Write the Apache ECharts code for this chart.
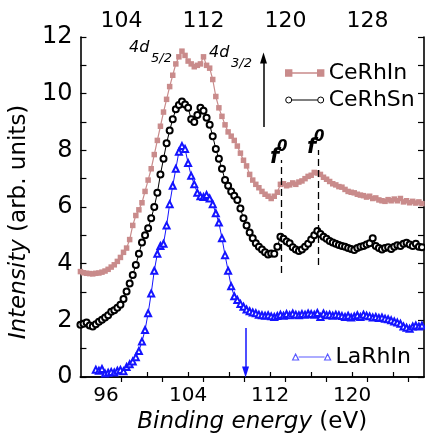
<!DOCTYPE html>
<html>
<head>
<meta charset="utf-8">
<script src="https://cdn.jsdelivr.net/npm/echarts@6/dist/echarts.min.js"></script>
<style>
html,body{margin:0;padding:0;background:#fff;}
#chart{width:425px;height:439px;}
</style>
</head>
<body>
<div id="chart"></div>
<script>
// Binding energy grid (eV)
const energy = [93.5,93.8,94.1,94.4,94.7,95.0,95.3,95.6,95.9,96.2,96.5,96.8,97.1,97.4,97.7,98.0,98.3,98.6,98.9,99.2,
99.5,99.8,100.1,100.4,100.7,101.0,101.3,101.6,101.9,102.2,102.5,102.8,103.1,103.4,103.7,104.0,104.3,104.6,104.9,105.2,
105.5,105.8,106.1,106.4,106.7,107.0,107.3,107.6,107.9,108.2,108.5,108.8,109.1,109.4,109.7,110.0,110.3,110.6,110.9,111.2,
111.5,111.8,112.1,112.4,112.7,113.0,113.3,113.6,113.9,114.2,114.5,114.8,115.1,115.4,115.7,116.0,116.3,116.6,116.9,117.2,
117.5,117.8,118.1,118.4,118.7,119.0,119.3,119.6,119.9,120.2,120.5,120.8,121.1,121.4,121.7,122.0,122.3,122.6,122.9,123.2,
123.5,123.8,124.1,124.4,124.7,125.0,125.3,125.6,125.9,126.2,126.5,126.8];

const ceRhIn = [3.72,3.68,3.66,3.65,3.64,3.66,3.67,3.70,3.74,3.80,3.88,3.96,4.08,4.22,4.40,4.55,4.85,5.35,5.70,5.90,
6.15,6.55,6.95,7.35,7.85,8.35,8.85,9.35,9.80,10.25,10.65,11.05,11.30,11.50,11.35,11.15,11.05,10.95,11.00,11.05,
11.30,11.00,10.90,10.50,9.90,9.50,9.20,8.90,8.65,8.50,8.35,8.15,7.90,7.65,7.45,7.15,6.95,6.80,6.68,6.55,
6.45,6.38,6.30,6.38,6.52,6.80,6.82,6.75,6.78,6.85,6.80,6.88,6.92,7.00,7.08,7.12,7.22,7.20,7.15,7.05,
6.98,6.90,6.82,6.78,6.72,6.70,6.62,6.55,6.52,6.50,6.45,6.42,6.40,6.35,6.38,6.30,6.32,6.25,6.22,6.20,
6.26,6.22,6.28,6.22,6.30,6.18,6.22,6.15,6.20,6.14,6.18,6.12];

const ceRhSn = [1.84,1.88,1.92,1.82,1.78,1.86,1.95,2.02,2.10,2.18,2.30,2.36,2.44,2.55,2.75,3.02,3.30,3.60,3.95,4.35,
4.75,5.00,5.25,5.60,6.00,6.50,7.15,7.70,8.25,8.70,9.10,9.45,9.60,9.72,9.62,9.50,9.10,9.00,9.25,9.50,
9.40,9.15,8.90,8.50,8.05,7.70,7.35,6.95,6.75,6.55,6.40,6.25,5.95,5.60,5.35,5.10,4.90,4.72,4.60,4.50,
4.40,4.32,4.36,4.35,4.60,4.95,4.88,4.78,4.72,4.58,4.50,4.45,4.50,4.60,4.70,4.85,5.00,5.15,5.05,4.95,
4.88,4.80,4.75,4.70,4.66,4.62,4.60,4.55,4.52,4.48,4.55,4.60,4.62,4.68,4.72,4.90,4.62,4.55,4.50,4.55,
4.58,4.52,4.60,4.65,4.62,4.70,4.74,4.68,4.62,4.70,4.60,4.58];

const laRhIn = [null,null,null,null,null,0.26,0.22,0.28,0.12,0.15,0.18,0.16,0.22,0.25,0.20,0.35,0.45,0.55,0.70,0.92,
1.25,1.66,2.25,2.95,3.75,4.35,4.62,4.70,5.35,6.10,6.75,7.35,7.95,8.15,8.05,7.55,7.10,6.80,6.50,6.38,
6.35,6.42,6.30,6.10,5.78,5.45,4.90,4.30,3.75,3.20,2.85,2.72,2.58,2.48,2.38,2.32,2.28,2.25,2.20,2.18,
2.16,2.18,2.14,2.12,2.15,2.20,2.16,2.22,2.18,2.24,2.20,2.18,2.22,2.20,2.24,2.22,2.20,2.26,2.12,2.24,
2.18,2.20,2.16,2.20,2.18,2.15,2.12,2.16,2.10,2.14,2.18,2.12,2.20,2.16,2.14,2.10,2.12,2.08,2.10,2.06,
2.04,2.00,1.96,1.92,1.88,1.78,1.74,1.70,1.78,1.82,1.78,1.82];

const bottomTicks = [96,100,104,108,112,116,120,124];
const bottomLabels = [96,104,112,120];
const topTicks = [104,108,112,116,120,124,128,132];
const topLabels = [104,112,120,128];
const fLines = [113.1, 116.7];

const FONT = 'DejaVu Sans';
const pink = '#c98b8b';
const blue = '#1414ff';

function pairs(vals){
  const out = [];
  energy.forEach((e,i)=>{ if(vals[i]!==null) out.push([e, vals[i]]); });
  return out;
}

const chart = echarts.init(document.getElementById('chart'), null, {renderer:'canvas'});
const axisLine = {show:true, lineStyle:{color:'#000', width:1.6}};
const option = {
  animation:false,
  backgroundColor:'#fff',
  grid:{left:80, right:1, top:37, bottom:62, show:false},
  xAxis:[{
    type:'value', position:'bottom', min:93.5, max:127,
    axisLine: axisLine,
    axisTick:{show:true, inside:true, length:5, customValues:bottomTicks, lineStyle:{color:'#000', width:1.2}},
    axisLabel:{show:true, customValues:bottomLabels, margin:9, fontFamily:FONT, fontSize:20, color:'#000'},
    splitLine:{show:false},
    name:'{i|Binding energy} (eV)', nameLocation:'middle', nameGap:32,
    nameTextStyle:{fontFamily:FONT, fontSize:23, color:'#000',
      rich:{i:{fontFamily:FONT, fontStyle:'italic', fontSize:23, color:'#000'}}}
  },{
    type:'value', position:'top', min:100, max:133.5,
    axisLine: axisLine,
    axisTick:{show:true, inside:true, length:5, customValues:topTicks, lineStyle:{color:'#000', width:1.2}},
    axisLabel:{show:true, customValues:topLabels, margin:5, fontFamily:FONT, fontSize:22, color:'#000'},
    splitLine:{show:false}
  }],
  yAxis:[{
    type:'value', position:'left', min:0, max:12, interval:1,
    axisLine: axisLine,
    axisTick:{show:true, inside:true, length:6, lineStyle:{color:'#000', width:1.2}},
    axisLabel:{margin:8, fontFamily:FONT, fontSize:24, color:'#000',
      formatter:function(v){ return v % 2 === 0 ? String(v) : ''; }},
    splitLine:{show:false},
    name:'{i|Intensity} (arb. units)', nameLocation:'middle', nameGap:36,
    nameTextStyle:{fontFamily:FONT, fontSize:23, color:'#000', padding:[0,30,0,0],
      rich:{i:{fontFamily:FONT, fontStyle:'italic', fontSize:23, color:'#000'}}}
  },{
    type:'value', position:'right', min:0, max:12, interval:1,
    axisLine: axisLine,
    axisTick:{show:true, inside:true, length:6, lineStyle:{color:'#000', width:1.2}},
    axisLabel:{show:false},
    splitLine:{show:false}
  }],
  legend:[{
    orient:'vertical', left:280, top:57, itemWidth:38, itemHeight:7, itemGap:5,
    textStyle:{fontFamily:FONT, fontSize:22, color:'#000'},
    data:[
      {name:'CeRhIn', icon:'path://M0,0.5h6v6h-6z M6,3.5H32 M32,0.5h6v6h-6z',
       itemStyle:{color:pink, borderColor:pink, borderWidth:1.4}},
      {name:'CeRhSn', icon:'path://M0,3.5a3,3 0 1,0 6,0a3,3 0 1,0 -6,0z M6,3.5H32 M32,3.5a3,3 0 1,0 6,0a3,3 0 1,0 -6,0z',
       itemStyle:{color:'#fff', borderColor:'#000', borderWidth:1}}
    ]
  },{
    orient:'vertical', left:287, top:341, itemWidth:38, itemHeight:7,
    textStyle:{fontFamily:FONT, fontSize:22, color:'#000'},
    data:[
      {name:'LaRhIn', icon:'path://M0,6.5L3,0.5L6,6.5z M6,3.5H32 M32,6.5L35,0.5L38,6.5z',
       itemStyle:{color:'#fff', borderColor:'#5a5aff', borderWidth:1.2}}
    ]
  }],
  series:[{
    name:'CeRhIn', type:'line', xAxisIndex:0, yAxisIndex:0,
    data:pairs(ceRhIn), symbol:'rect', symbolSize:5.5,
    itemStyle:{color:pink}, lineStyle:{color:pink, width:1.2},
    z:2
  },{
    name:'CeRhSn', type:'line', xAxisIndex:0, yAxisIndex:0,
    data:pairs(ceRhSn), symbol:'emptyCircle', symbolSize:6,
    itemStyle:{color:'#000', borderColor:'#000', borderWidth:1}, lineStyle:{color:'#000', width:1},
    z:3,
    markLine:{
      silent:true, animation:false, label:{show:false},
      data:[
        [{coord:[fLines[0],3.67], symbol:'none', lineStyle:{color:'#000', width:1.3, type:[7,4]}},
         {coord:[fLines[0],7.66], symbol:'none'}],
        [{coord:[fLines[1],3.95], symbol:'none', lineStyle:{color:'#000', width:1.3, type:[7,4]}},
         {coord:[fLines[1],8.01], symbol:'none'}],
        [{coord:[111.35,8.82], symbol:'none', lineStyle:{color:'#000', width:1.5, type:'solid'}},
         {coord:[111.35,11.26], symbol:'triangle', symbolSize:[7,11]}]
      ]
    }
  },{
    name:'LaRhIn', type:'line', xAxisIndex:0, yAxisIndex:0,
    data:pairs(laRhIn), symbol:'emptyTriangle', symbolSize:6,
    itemStyle:{color:blue, borderColor:blue, borderWidth:1}, lineStyle:{color:blue, width:1},
    z:4,
    markLine:{
      silent:true, animation:false, label:{show:false},
      data:[
        [{coord:[109.6,1.73], symbol:'none', lineStyle:{color:blue, width:1.5, type:'solid'}},
         {coord:[109.6,0.18], symbol:'triangle', symbolSize:[7,11], itemStyle:{color:blue}}]
      ]
    }
  }],
  graphic:[
    {type:'text', left:129, top:40, style:{text:'4d', font:'italic 16px "DejaVu Sans"', fill:'#000'}},
    {type:'text', left:151, top:52, style:{text:'5/2', font:'italic 13px "DejaVu Sans"', fill:'#000'}},
    {type:'text', left:209, top:45, style:{text:'4d', font:'italic 16px "DejaVu Sans"', fill:'#000'}},
    {type:'text', left:231, top:57, style:{text:'3/2', font:'italic 13px "DejaVu Sans"', fill:'#000'}},
    {type:'text', left:270, top:147, style:{text:'f', font:'bold italic 21px "DejaVu Sans"', fill:'#000'}},
    {type:'text', left:277, top:140, style:{text:'0', font:'bold italic 15px "DejaVu Sans"', fill:'#000'}},
    {type:'text', left:307, top:137, style:{text:'f', font:'bold italic 21px "DejaVu Sans"', fill:'#000'}},
    {type:'text', left:314, top:130, style:{text:'0', font:'bold italic 15px "DejaVu Sans"', fill:'#000'}}
  ]
};
chart.setOption(option);
</script>
</body>
</html>
